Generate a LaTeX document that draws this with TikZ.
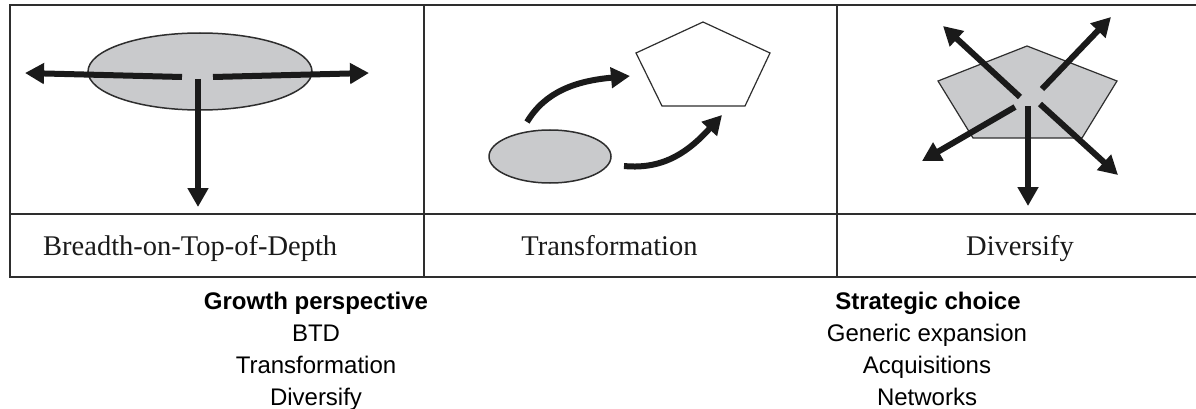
\documentclass[tikz,border=0pt]{standalone}
\usepackage{fontspec}
\setmainfont{Liberation Serif}
\newfontfamily\labelsans{Liberation Sans}
\usetikzlibrary{arrows.meta}
\definecolor{frame}{HTML}{2E2E2E}
\definecolor{shade}{HTML}{C9CACC}
\definecolor{ink}{HTML}{1A1A1A}
\tikzset{
  frameline/.style={draw=frame, line width=2.5pt},
  blob/.style={draw=frame, line width=1.5pt, fill=shade},
  outline/.style={draw=frame, line width=1.2pt},
  bigarrow/.style={draw=ink, line width=6pt,
    -{Triangle[length=19pt,width=20pt]}},
  panellabel/.style={inner sep=0pt, anchor=base, font=\fontsize{28.5}{32}\selectfont, text=ink},
  listhead/.style={inner sep=0pt, anchor=base, font=\labelsans\bfseries\fontsize{24}{27}\selectfont},
  listitem/.style={inner sep=0pt, anchor=base, font=\labelsans\fontsize{24}{27}\selectfont}
}
\begin{document}
\begin{tikzpicture}[x=1pt, y=-1pt]
\useasboundingbox (0,0) rectangle (1196,409);
\fill[white] (0,0) rectangle (1196,409);

% table frame
\draw[frameline] (1200,5) -- (10,5) -- (10,277) -- (1200,277);
\draw[frameline] (10,214) -- (1200,214);
\draw[frameline] (424,5) -- (424,277);
\draw[frameline] (837,5) -- (837,277);

% panel 1: breadth on top of depth
\path[blob] (200,71.5) ellipse [x radius=112, y radius=38.5];
\coordinate (b-left-in) at (182,77);
\coordinate (b-left-tip) at (25,73);
\coordinate (b-right-in) at (213,77);
\coordinate (b-right-tip) at (369,73);
\coordinate (b-down-in) at (198,79);
\coordinate (b-down-tip) at (198,207);
\draw[bigarrow] (b-left-in) -- (b-left-tip);
\draw[bigarrow] (b-right-in) -- (b-right-tip);
\draw[bigarrow] (b-down-in) -- (b-down-tip);
\node[panellabel, anchor=base west] (lab1) at (43,255) {Breadth-on-Top-of-Depth};

% panel 2: transformation
\path[blob] (550,156.5) ellipse [x radius=61, y radius=26.5];
\draw[outline, fill=white] (703,22) -- (770,53) -- (745,106) -- (662,106) -- (636,53) -- cycle;
\coordinate (t-a-start) at (527,122);
\coordinate (t-a-tip) at (630,76);
\coordinate (t-b-start) at (624,166);
\coordinate (t-b-tip) at (722,115);
\draw[bigarrow] (t-a-start) .. controls (545,92) and (575,81) .. (t-a-tip);
\draw[bigarrow] (t-b-start) .. controls (665,170) and (690,150) .. (t-b-tip);
\node[panellabel] (lab2) at (609.5,255) {Transformation};

% panel 3: diversify
\draw[outline, fill=shade] (1027,46) -- (1117,81) -- (1082,138) -- (973,138) -- (938,81) -- cycle;
\coordinate (d-ul-in) at (1020,97);
\coordinate (d-ul-tip) at (943,26);
\coordinate (d-ur-in) at (1042,89);
\coordinate (d-ur-tip) at (1111,17);
\coordinate (d-dl-in) at (1015,107);
\coordinate (d-dl-tip) at (922,161);
\coordinate (d-d-in) at (1028,106);
\coordinate (d-d-tip) at (1028,206);
\coordinate (d-dr-in) at (1040,104);
\coordinate (d-dr-tip) at (1118,175);
\draw[bigarrow] (d-ul-in) -- (d-ul-tip);
\draw[bigarrow] (d-ur-in) -- (d-ur-tip);
\draw[bigarrow] (d-dl-in) -- (d-dl-tip);
\draw[bigarrow] (d-d-in) -- (d-d-tip);
\draw[bigarrow] (d-dr-in) -- (d-dr-tip);
\node[panellabel] (lab3) at (1020,255) {Diversify};

% legend columns
\node[listhead] (gp) at (316,309) {Growth perspective};
\node[listitem] (gp1) at (316,341) {BTD};
\node[listitem] (gp2) at (316,373) {Transformation};
\node[listitem] (gp3) at (316,405) {Diversify};
\node[listhead] (sc) at (928,309) {Strategic choice};
\node[listitem] (sc1) at (927,341) {Generic expansion};
\node[listitem] (sc2) at (927,373) {Acquisitions};
\node[listitem] (sc3) at (927,405) {Networks};
\end{tikzpicture}
\end{document}
